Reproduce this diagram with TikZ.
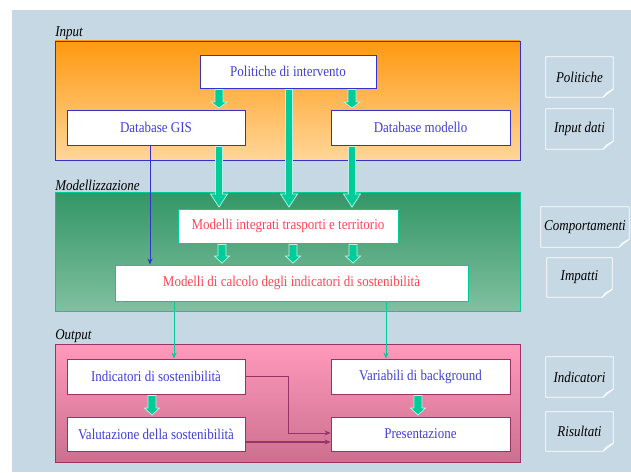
\documentclass[tikz,border=0pt]{standalone}
\usepackage{fontspec}
\usepackage{graphicx}
\setmainfont{Liberation Serif}
\usetikzlibrary{arrows.meta,calc}
\definecolor{bgc}{RGB}{198,216,228}
\definecolor{intop}{RGB}{255,153,17}
\definecolor{inbot}{RGB}{255,214,153}
\definecolor{mdtop}{RGB}{51,150,102}
\definecolor{mdbot}{RGB}{128,192,160}
\definecolor{outtop}{RGB}{255,153,187}
\definecolor{outbot}{RGB}{204,112,144}
\definecolor{agreen}{RGB}{0,204,153}
\definecolor{iblue}{RGB}{51,51,204}
\definecolor{tblue}{RGB}{64,64,215}
\definecolor{mred}{RGB}{255,68,85}
\definecolor{maroon}{RGB}{153,51,102}
\newcommand\tx[1]{\scalebox{1}[1.15]{#1}}
\tikzset{
  panel/.style={minimum width=465pt, inner sep=0pt, line width=0.9pt},
  box/.style={fill=white, inner sep=0pt, line width=0.9pt, font=\fontsize{13}{15}\selectfont},
  inbox/.style={box, draw=iblue, text=tblue},
  mdbox/.style={box, draw=agreen, text=mred},
  outbox/.style={box, draw=maroon, text=tblue},
  lbl/.style={anchor=south west, inner sep=0.5pt, font=\fontsize{13}{15}\selectfont\itshape},
  notetext/.style={inner sep=0pt, font=\fontsize{13}{15}\selectfont\itshape},
  noteline/.style={draw=white, line width=0.8pt},
  blockarrow/.style={fill=agreen, draw=white!75!agreen, line width=0.7pt},
  thin/.style={line width=0.8pt, -{Stealth[length=6pt,width=5pt]}}
}
\newcommand\barrow[6]{%
  \path[blockarrow] let \p1=(#2), \p2=(#3) in
  (#1pt-#4pt,\y1-1pt) -- (#1pt-#4pt,\y2+#6pt+1.5pt) -- (#1pt-#5pt,\y2+#6pt+1.5pt) --
  (#1pt,\y2+1.5pt) -- (#1pt+#5pt,\y2+#6pt+1.5pt) -- (#1pt+#4pt,\y2+#6pt+1.5pt) --
  (#1pt+#4pt,\y1-1pt) -- cycle;}
\newcommand\notebox[6]{%
  \node[notetext, minimum width=#4pt, minimum height=#5pt] (#1) at (#2,#3) {\tx{#6}};
  \draw[noteline] (#1.north west) -- (#1.north east) -- ([yshift=8pt]#1.south east)
    -- ([xshift=-10pt]#1.south east) -- (#1.south west) -- cycle;
  \draw[noteline] ([yshift=8pt]#1.south east) -- ([xshift=-7pt,yshift=4pt]#1.south east)
    -- ([xshift=-10pt]#1.south east);}
\begin{document}
\begin{tikzpicture}[x=1pt,y=1pt]
\useasboundingbox (0,0) rectangle (631,472);
\fill[white] (0,0) rectangle (631,472);
\fill[bgc] (12,0) rectangle (631,462);

% panels
\node[panel, minimum height=119pt, top color=intop, bottom color=inbot, draw=iblue] (inpanel) at (287.5,371.5) {};
\node[panel, minimum height=119pt, top color=mdtop, bottom color=mdbot, draw=agreen] (mdpanel) at (287.5,220.5) {};
\node[panel, minimum height=118pt, top color=outtop, bottom color=outbot, draw=maroon] (outpanel) at (287.5,69) {};
\node[lbl] (inlbl) at (inpanel.north west) {\tx{Input}};
\node[lbl] (mdlbl) at (mdpanel.north west) {\tx{Modellizzazione}};
\node[lbl] (outlbl) at (outpanel.north west) {\tx{Output}};

% input boxes
\node[inbox, minimum width=176pt, minimum height=33pt] (pol) at (288,400.5) {\tx{Politiche di intervento}};
\node[inbox, minimum width=178pt, minimum height=35pt] (gis) at (156,344.5) {\tx{Database GIS}};
\node[inbox, minimum width=179pt, minimum height=35pt] (dbm) at (420.5,344.5) {\tx{Database modello}};

% model boxes
\node[mdbox, minimum width=220pt, minimum height=34pt] (mit) at (288,246) {\tx{Modelli integrati trasporti e territorio}};
\node[mdbox, minimum width=353pt, minimum height=36pt] (calc) at (291.5,189) {\tx{Modelli di calcolo degli indicatori di sostenibilità}};

% output boxes
\node[outbox, minimum width=178pt, minimum height=35pt] (ind) at (156,95.5) {\tx{Indicatori di sostenibilità}};
\node[outbox, minimum width=179pt, minimum height=35pt] (var) at (420.5,95.5) {\tx{Variabili di background}};
\node[outbox, minimum width=178pt, minimum height=34pt] (val) at (156,38) {\tx{Valutazione della sostenibilità}};
\node[outbox, minimum width=179pt, minimum height=34pt] (pres) at (420.5,38) {\tx{Presentazione}};

% block arrows
\barrow{219}{pol.south}{gis.north}{4}{8}{6}
\barrow{352}{pol.south}{dbm.north}{4}{8}{6}
\barrow{289}{pol.south}{mit.north}{3.5}{8.5}{13}
\barrow{219}{gis.south}{mit.north}{3.5}{8.5}{13}
\barrow{352}{dbm.south}{mit.north}{3.5}{8.5}{13}
\barrow{222}{mit.south}{calc.north}{4}{7.5}{7}
\barrow{293}{mit.south}{calc.north}{4}{7.5}{7}
\barrow{353}{mit.south}{calc.north}{4}{7.5}{7}
\barrow{152}{ind.south}{val.north}{4}{7.5}{7}
\barrow{418}{var.south}{pres.north}{4}{7.5}{7}

% thin connectors
\coordinate (b1) at ([xshift=-6pt]gis.south);
\draw[thin, draw=iblue] (b1) -- (b1 |- calc.north);
\coordinate (g1) at ([xshift=-117.5pt]calc.south);
\coordinate (g2) at ([xshift=94.5pt]calc.south);
\draw[thin, draw=agreen] (g1) -- (g1 |- ind.north);
\draw[thin, draw=agreen] (g2) -- (g2 |- var.north);
\coordinate (m1) at (288,39);
\draw[thin, draw=maroon] (ind.east) -| (m1) -- (m1 -| pres.west);
\coordinate (m2) at ([yshift=-8pt]val.east);
\draw[thin, draw=maroon, line width=1.6pt] (m2) -- (m2 -| pres.west);

% notes
\notebox{n1}{579.5}{395}{67}{40}{Politiche}
\notebox{n2}{579.5}{343}{67}{40}{Input dati}
\notebox{n3}{585}{245}{88}{40}{Comportamenti}
\notebox{n4}{579.5}{194.5}{65}{39}{Impatti}
\notebox{n5}{579.5}{95}{67}{40}{Indicatori}
\notebox{n6}{579.5}{40.5}{67}{39}{Risultati}
\end{tikzpicture}
\end{document}
